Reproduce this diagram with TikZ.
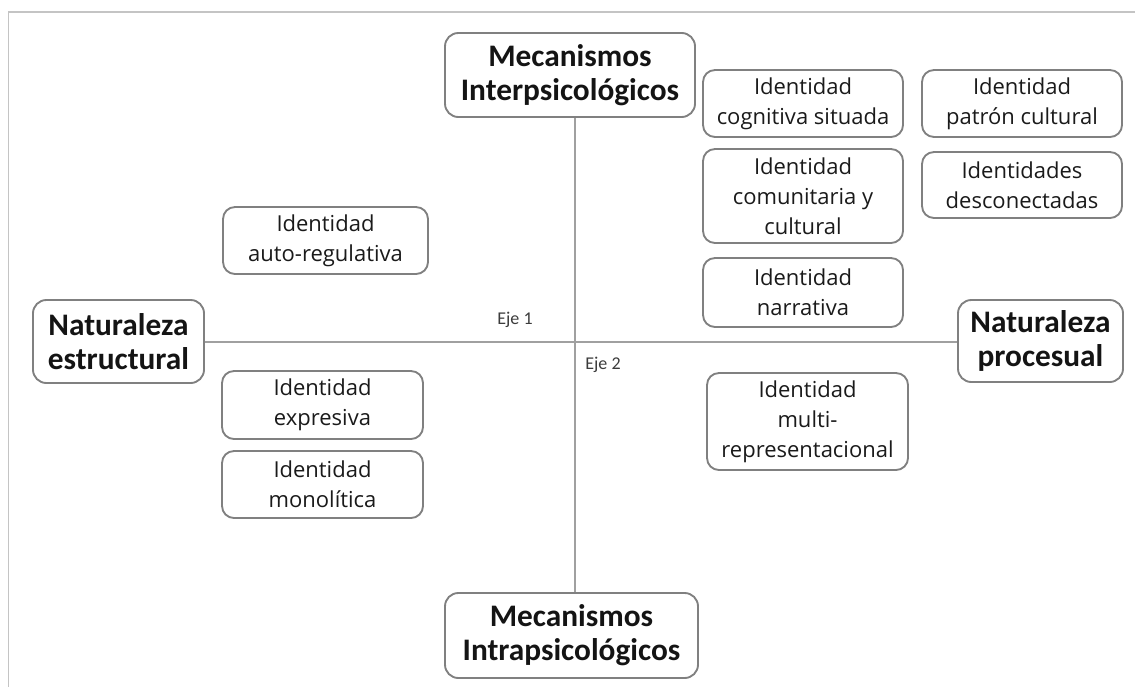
\documentclass[tikz,border=0pt]{standalone}
\usepackage{fontspec}
\setmainfont{Open Sans}
\newfontfamily\titlefont{Carlito}

\definecolor{boxline}{HTML}{808080}
\definecolor{axisline}{HTML}{A0A0A0}
\definecolor{frameline}{HTML}{C4C4C4}
\definecolor{bodytext}{HTML}{1A1A1A}
\definecolor{titletext}{HTML}{141414}

\tikzset{
  idbox/.style={draw=boxline, line width=1.4pt, rounded corners=9pt,
    inner sep=0pt, align=center, text=bodytext,
    font=\fontsize{16.5}{22.5}\selectfont},
  polebox/.style={idbox, text=titletext, rounded corners=10pt,
    font=\titlefont\bfseries\fontsize{23.5}{25.5}\selectfont},
  axis/.style={draw=axisline, line width=2.2pt},
  axislabel/.style={font=\titlefont\fontsize{13.5}{15}\selectfont, text=bodytext!85, anchor=base}
}

\begin{document}
\begin{tikzpicture}[x=0.75pt,y=-0.75pt]
  \useasboundingbox (0,0) rectangle (1135,686);
  \clip (0,0) rectangle (1135,686);

  % outer frame (only its top and left edges fall inside the page)
  \draw[frameline, line width=1.2pt] (8.5,700) -- (8.5,12) -- (1150,12);

  % pole boxes
  \node[polebox, minimum width=187.5pt, minimum height=63pt] (inter) at (570,75) {Mecanismos\\Interpsicológicos};
  \node[polebox, minimum width=189.75pt, minimum height=63.75pt] (intra) at (571.5,635.5) {Mecanismos\\Intrapsicológicos};
  \node[polebox, minimum width=128.25pt, minimum height=62.25pt] (estr) at (118.5,341.5) {Naturaleza\\estructural};
  \node[polebox, minimum width=123.75pt, minimum height=61.5pt] (proc) at (1040.5,341) {Naturaleza\\procesual};

  % axes
  \coordinate (cross) at (575,342);
  \draw[axis] (cross |- inter.south) -- (cross |- intra.north);
  \draw[axis] (estr.east |- cross) -- (proc.west |- cross);
  \node[axislabel] (eje1) at (515,324) {Eje 1};
  \node[axislabel] (eje2) at (603,369) {Eje 2};

  % identity types, left side
  \node[idbox, minimum width=153.75pt, minimum height=50.25pt] (auto) at (325.5,240.5) {Identidad\\auto-regulativa};
  \node[idbox, minimum width=150.75pt, minimum height=51pt] (expr) at (322.5,405) {Identidad\\expresiva};
  \node[idbox, minimum width=150.75pt, minimum height=50.25pt] (mono) at (322.5,484.5) {Identidad\\monolítica};

  % identity types, right side
  \node[idbox, minimum width=150pt, minimum height=50.25pt] (cogn) at (803,103.5) {Identidad\\cognitiva situada};
  \node[idbox, minimum width=150pt, minimum height=70.5pt] (comu) at (803,196) {Identidad\\comunitaria y\\cultural};
  \node[idbox, minimum width=150pt, minimum height=51.75pt] (narr) at (803,292.5) {Identidad\\narrativa};
  \node[idbox, minimum width=150.75pt, minimum height=72.75pt] (multi) at (807.5,421.5) {Identidad\\multi-\\representacional};
  \node[idbox, minimum width=150pt, minimum height=50.25pt] (patr) at (1022,103.5) {Identidad\\patrón cultural};
  \node[idbox, minimum width=150pt, minimum height=49.5pt] (desc) at (1022,185) {Identidades\\desconectadas};
\end{tikzpicture}
\end{document}
